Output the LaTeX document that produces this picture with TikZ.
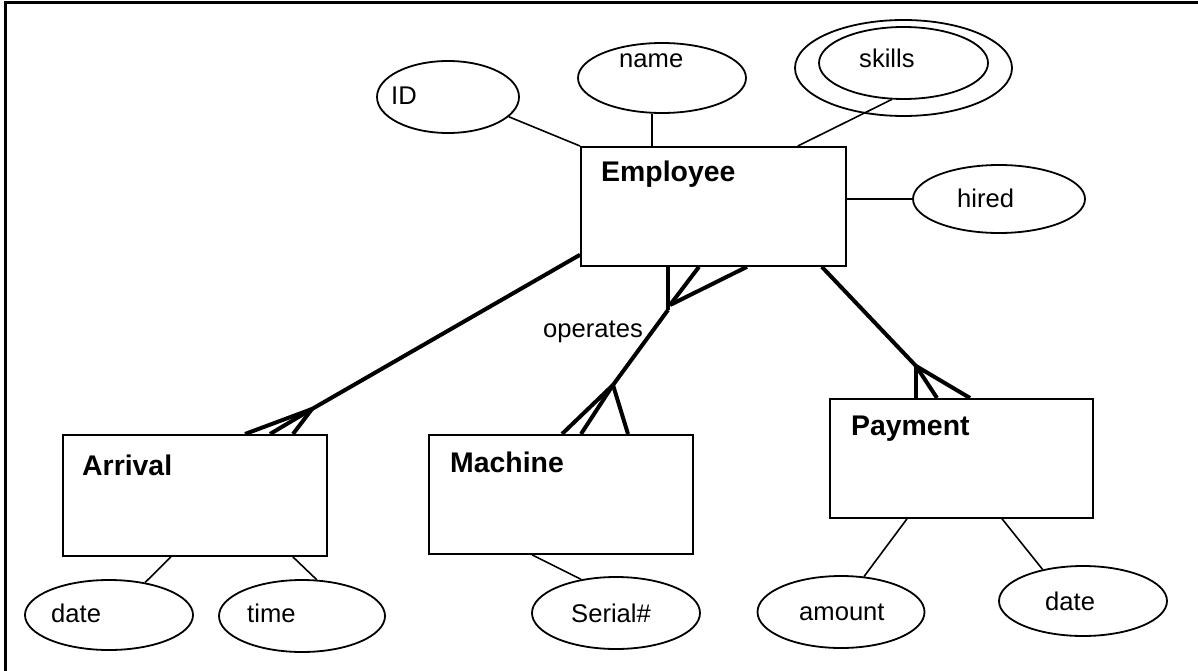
\documentclass[tikz,border=0pt]{standalone}
\usepackage{fontspec}
\setmainfont{Liberation Sans}
\usetikzlibrary{shapes.geometric}
\begin{document}
\begin{tikzpicture}[x=1pt,y=-1pt,
  ent/.style={draw,line width=1.8pt,rectangle,anchor=north west,inner sep=0pt},
  att/.style={draw,line width=1.8pt,ellipse,inner sep=0pt},
  thin/.style={line width=1.6pt},
  thick/.style={line width=4pt},
  lbl/.style={anchor=base west,inner sep=0pt,font=\fontsize{25.6}{30}\selectfont},
  blbl/.style={anchor=base west,inner sep=0pt,font=\fontsize{28.4}{32}\selectfont\bfseries}]
\useasboundingbox (0,0) rectangle (1198,671);
\draw[line width=3pt] (5,671) -- (5,2.5) -- (1198,2.5);

% entities
\node[ent,minimum width=265pt,minimum height=119pt] (emp) at (580,146) {};
\node[ent,minimum width=264pt,minimum height=121pt] (arr) at (62,434) {};
\node[ent,minimum width=264pt,minimum height=119pt] (mach) at (428,434) {};
\node[ent,minimum width=263pt,minimum height=119pt] (pay) at (829,398) {};
\node[blbl] (tEmp) at (601,181.5) {Employee};
\node[blbl] (tArr) at (82,475) {Arrival};
\node[blbl] (tMach) at (450,472) {Machine};
\node[blbl] (tPay) at (851,435) {Payment};

% attributes
\node[att,minimum width=142pt,minimum height=72pt] (id) at (448,97) {};
\node[lbl] (tId) at (391,105) {ID};
\node[att,minimum width=168pt,minimum height=70pt] (name) at (662,78) {};
\node[lbl] (tName) at (619,68) {name};
\node[att,minimum width=217pt,minimum height=96pt] (skout) at (903.5,68) {};
\node[att,minimum width=169pt,minimum height=72pt] (skin) at (903.5,63) {};
\node[lbl] (tSkills) at (859,68) {skills};
\node[att,minimum width=172pt,minimum height=68pt] (hired) at (999,199) {};
\node[lbl] (tHired) at (957,207) {hired};
\node[att,minimum width=168pt,minimum height=70pt] (adate) at (109,615) {};
\node[lbl] (tADate) at (51,622) {date};
\node[att,minimum width=166pt,minimum height=72pt] (time) at (302,616) {};
\node[lbl] (tTime) at (247,622) {time};
\node[att,minimum width=168pt,minimum height=72pt] (serial) at (616,613) {};
\node[lbl] (tSerial) at (571,622) {Serial\#};
\node[att,minimum width=167pt,minimum height=72pt] (amount) at (841,612) {};
\node[lbl] (tAmount) at (799,620) {amount};
\node[att,minimum width=168pt,minimum height=70pt] (pdate) at (1083,601) {};
\node[lbl] (tPDate) at (1045,610) {date};
\node[lbl] (tOp) at (543,337) {operates};

% attribute connectors
\draw[thin] (id.-18) -- (emp.north west);
\draw[thin] (name.south -| 652,0) -- (emp.north -| 652,0);
\draw[thin] (skin.-108) -- ([xshift=-49pt]emp.north east);
\draw[thin] (hired.west -| emp.east) -- (hired.west);
\draw[thin] ([xshift=109pt]arr.south west) -- (adate.42);
\draw[thin] ([xshift=-35pt]arr.south east) -- (time.68);
\draw[thin] ([xshift=104pt]mach.south west) -- (serial.136);
\draw[thin] ([xshift=78pt]pay.south west) -- (amount.57);
\draw[thin] ([xshift=173pt]pay.south west) -- (pdate.142);

% relationships (crow's feet)
\coordinate (cA) at (312,409);
\draw[thick] ([yshift=12pt]emp.south west) -- (cA);
\draw[thick] (cA) -- ([xshift=183pt]arr.north west);
\draw[thick] (cA) -- ([xshift=208pt]arr.north west);
\draw[thick] (cA) -- ([xshift=231pt]arr.north west);

\coordinate (cE) at (670,305);
\coordinate (cEv) at (668,310);
\coordinate (cM) at (613,385);
\draw[thick] ([xshift=88pt]emp.south west) -- (cEv);
\draw[thick] (cE) -- ([xshift=119pt]emp.south west);
\draw[thick] (cE) -- ([xshift=167pt]emp.south west);
\draw[thick] (cEv) -- (cM);
\draw[thick] (cM) -- ([xshift=134pt]mach.north west);
\draw[thick] (cM) -- ([xshift=153pt]mach.north west);
\draw[thick] (cM) -- ([xshift=200pt]mach.north west);

\coordinate (cP) at (916,366);
\draw[thick] ([xshift=-25pt]emp.south east) -- (cP);
\draw[thick] (cP) -- ([xshift=87pt]pay.north west);
\draw[thick] (cP) -- ([xshift=108pt]pay.north west);
\draw[thick] (cP) -- ([xshift=141pt]pay.north west);
\end{tikzpicture}
\end{document}
